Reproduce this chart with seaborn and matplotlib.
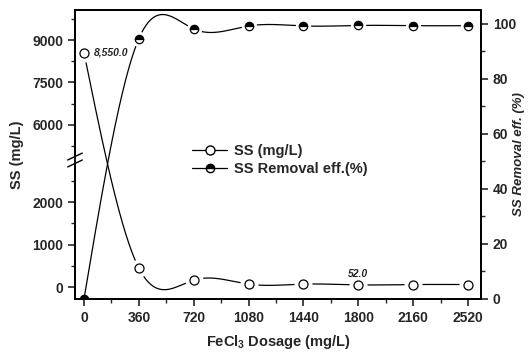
import numpy as np
import pandas as pd
import matplotlib
matplotlib.use("Agg")
import matplotlib.pyplot as plt
from matplotlib.lines import Line2D
import seaborn as sns

# ── Data ────────────────────────────────────────────────
dosage = [0, 360, 720, 1080, 1440, 1800, 2160, 2520]
ss_mgl = [8550, 447, 165, 70, 70, 52, 60, 60]
removal = [0, 94.6, 98.1, 99.2, 99.2, 99.4, 99.3, 99.3]

x_ticks = [0, 360, 720, 1080, 1440, 1800, 2160, 2520]
y_ticks = [0, 1000, 2000, 6000, 7500, 9000]
y_minor = [500, 1500, 2500, 5250, 6750, 8250, 9750]
r_ticks = [0, 20, 40, 60, 80, 100]

# ── Broken axis: piecewise linear scale ─────────────────
LOW_BRK, UP_BRK = 2990, 4760
UP_SLOPE = 0.0283 / 0.0425
EPS = 1e-4


def fwd(y):
    y = np.asarray(y, dtype=float)
    gap_top = LOW_BRK + (UP_BRK - LOW_BRK) * EPS
    return np.where(y <= LOW_BRK, y,
                    np.where(y <= UP_BRK, LOW_BRK + (y - LOW_BRK) * EPS,
                             gap_top + (y - UP_BRK) * UP_SLOPE))


def inv(u):
    u = np.asarray(u, dtype=float)
    gap_top = LOW_BRK + (UP_BRK - LOW_BRK) * EPS
    return np.where(u <= LOW_BRK, u,
                    np.where(u <= gap_top, LOW_BRK + (u - LOW_BRK) / EPS,
                             UP_BRK + (u - gap_top) / UP_SLOPE))


def natural_spline(x, y, xs):
    x = np.asarray(x, float)
    y = np.asarray(y, float)
    n = len(x)
    h = np.diff(x)
    A = np.zeros((n, n))
    b = np.zeros(n)
    A[0, 0] = A[-1, -1] = 1
    for i in range(1, n - 1):
        A[i, i - 1] = h[i - 1]
        A[i, i] = 2 * (h[i - 1] + h[i])
        A[i, i + 1] = h[i]
        b[i] = 6 * ((y[i + 1] - y[i]) / h[i] - (y[i] - y[i - 1]) / h[i - 1])
    M = np.linalg.solve(A, b)
    idx = np.clip(np.searchsorted(x, xs) - 1, 0, n - 2)
    x0, x1 = x[idx], x[idx + 1]
    hh = x1 - x0
    t0, t1 = x1 - xs, xs - x0
    return (M[idx] * t0**3 / (6 * hh) + M[idx + 1] * t1**3 / (6 * hh)
            + (y[idx] / hh - M[idx] * hh / 6) * t0
            + (y[idx + 1] / hh - M[idx + 1] * hh / 6) * t1)


xs = np.linspace(dosage[0], dosage[-1], 600)
ss_curve = inv(natural_spline(dosage, fwd(ss_mgl), xs))
rem_curve = natural_spline(dosage, removal, xs)

df = pd.DataFrame({"dosage": dosage, "ss": ss_mgl, "removal": removal})
curve = pd.DataFrame({"x": xs, "ss": ss_curve, "removal": rem_curve})

# ── Style ───────────────────────────────────────────────
sns.set_style("ticks")
plt.rcParams["font.family"] = ["Liberation Sans", "DejaVu Sans"]
plt.rcParams["font.weight"] = "bold"
plt.rcParams["mathtext.fontset"] = "custom"
plt.rcParams["mathtext.rm"] = "Liberation Sans:bold"
plt.rcParams["mathtext.bf"] = "Liberation Sans:bold"
plt.rcParams["mathtext.default"] = "rm"

fig = plt.figure(figsize=(5.29, 3.54), dpi=100)
ax = fig.add_axes([75 / 529, 1 - 299 / 354, 406 / 529, 289 / 354])
ax.set_yscale("function", functions=(fwd, inv))
ax2 = ax.twinx()

# SS curve + markers (white halo gives the gap around markers)
sns.lineplot(data=curve, x="x", y="ss", ax=ax, color="black", lw=0.9,
             estimator=None, sort=False, zorder=2)
ax.plot(df["dosage"], df["ss"], "o", ms=12, color="white", mec="white",
        zorder=3)
ax.plot(df["dosage"], df["ss"], "o", ms=6.5, mfc="white", mec="black",
        mew=0.9, zorder=4)

# Removal curve + half-filled markers
sns.lineplot(data=curve, x="x", y="removal", ax=ax2, color="black", lw=0.9,
             estimator=None, sort=False, zorder=2)
ax2.plot(df["dosage"][1:], df["removal"][1:], "o", ms=10, color="white",
         mec="white", zorder=3)
ax2.plot(df["dosage"], df["removal"], "o", ms=6, fillstyle="top",
         mfc="black", mfcalt="white", mec="black", mew=0.9, zorder=4)

# ── Axes limits & ticks ─────────────────────────────────
ax.set_xlim(-59, 2605)
ax.set_ylim(-280, 10060)
ax2.set_ylim(0, 105)
ax.set_xticks(x_ticks)
ax.set_xticks(np.arange(180, 2600, 360), minor=True)
ax.set_yticks(y_ticks)
ax.set_yticks(y_minor, minor=True)
ax.set_yticklabels([str(t) for t in y_ticks])
ax2.set_yticks(r_ticks)
ax2.set_yticks(np.arange(10, 105, 20), minor=True)

for a in (ax, ax2):
    a.tick_params(which="major", direction="out", length=5, width=1.2,
                  labelsize=10)
    a.tick_params(which="minor", direction="out", length=3, width=1)
    for s in a.spines.values():
        s.set_linewidth(1.3)
        s.set_color("black")
    for lab in a.get_xticklabels() + a.get_yticklabels():
        lab.set_fontweight("bold")

ax.set_xlabel("FeCl$_3$ Dosage (mg/L)", fontsize=10.5, fontweight="bold",
              labelpad=6)
ax.set_ylabel("SS (mg/L)", fontsize=10.5, fontweight="bold", labelpad=6)
ax2.set_xlabel("")
ax2.set_ylabel("")
fig.text(519 / 529, 1 - 154 / 354, "SS Removal eff. (%)", rotation=90,
         ha="center", va="center", fontsize=9.5, fontweight="bold",
         style="italic")

# ── Break marks on left spine ───────────────────────────
brk_y = 1 - (160 - 10) / 289
ax.plot([0, 0], [brk_y - 0.012, brk_y + 0.012], transform=ax.transAxes,
        color="white", lw=3, clip_on=False, zorder=10)
for dy in (-0.012, 0.012):
    ax.plot([-0.018, 0.018], [brk_y + dy - 0.012, brk_y + dy + 0.012],
            transform=ax.transAxes, color="black", lw=1, clip_on=False,
            zorder=11)

# ── Annotations ─────────────────────────────────────────
ax.text(62, 8550, "8,550.0", fontsize=7.5, fontweight="bold",
        style="italic", va="center", ha="left")
ax.text(1800, 200, "52.0", fontsize=7.5, fontweight="bold",
        style="italic", va="bottom", ha="center")

# ── Legend ──────────────────────────────────────────────
h1 = Line2D([], [], color="black", lw=0.9, marker="o", ms=6.5,
            mfc="white", mec="black")
h2 = Line2D([], [], color="black", lw=0.9, marker="o", ms=6,
            fillstyle="top", mfc="black", mfcalt="white", mec="black")
leg = fig.legend([h1, h2], ["SS (mg/L)", "SS Removal eff.(%)"],
                 loc="upper left", bbox_to_anchor=(192 / 529, 1 - 144 / 354),
                 frameon=False, handlelength=2.4, handletextpad=0.5,
                 labelspacing=0.25, borderpad=0, borderaxespad=0,
                 prop={"weight": "bold", "size": 10.5})

fig.savefig("out.png", dpi=100)
